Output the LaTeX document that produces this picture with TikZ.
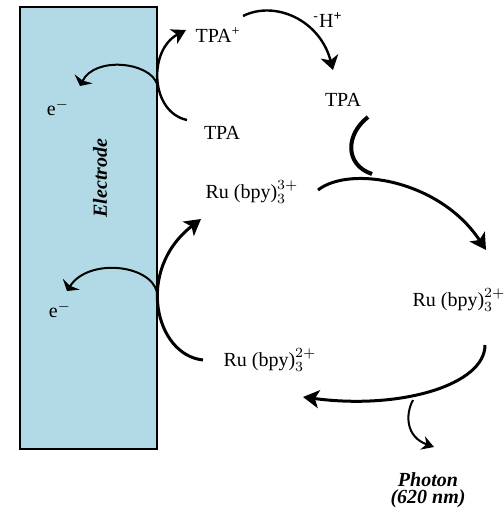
\documentclass[tikz,border=0pt]{standalone}
\usepackage{fontspec}
\setmainfont{Liberation Serif}
\usetikzlibrary{arrows.meta}
\definecolor{electrodeblue}{RGB}{178,218,230}
\begin{document}
\begin{tikzpicture}[x=0.5pt,y=-0.5pt,line width=1.5pt,
	lbl/.style={font=\fontsize{10}{11}\selectfont,inner sep=0pt},
	bigarr/.style={-{Stealth[length=8pt,width=9pt,inset=2pt]}},
	smallarr/.style={line width=1pt,-{Stealth[length=4pt,width=10pt,inset=1pt]}}]
	\useasboundingbox (0,0) rectangle (504,515);
	\draw[fill=electrodeblue,line width=0.8pt] (20,7) rectangle (157,449);
	\node[lbl,rotate=90,font=\fontsize{10}{11}\selectfont\bfseries\itshape] (electrode) at (100,178) {Electrode};
	% species
	\node[lbl] (tpaplus) at (218,35) {TPA\textsuperscript{+}};
	\node[lbl] (hplus) at (328,20) {\textsuperscript{-}H\textsuperscript{\textbf{+}}};
	\node[lbl] (tpa1) at (222,133) {TPA};
	\node[lbl] (tpa2) at (343,100) {TPA};
	\node[lbl] (ru3) at (252,192) {Ru (bpy)$_3^{3+}$};
	\node[lbl] (ru2ex) at (459,300) {Ru (bpy)$_3^{2\mathbf{+}}$};
	\node[lbl] (ru2) at (270,360) {Ru (bpy)$_3^{2\mathbf{+}}$};
	\node[lbl] (e1) at (58,108) {e$^-$};
	\node[lbl] (e2) at (60,310) {e$^-$};
	\node[lbl,font=\fontsize{10}{11}\selectfont\bfseries\itshape] (photon) at (428,480) {Photon};
	\node[lbl,font=\fontsize{10}{11}\selectfont\bfseries\itshape] (wavelen) at (428,499) {(620 nm)};
	% free ends
	\coordinate (edge1) at (157,84);
	\coordinate (edge2) at (157,292);
	\coordinate (tip1) at (80,86);
	\coordinate (tip2) at (67,291);
	\coordinate (tpain) at (187,120);
	\coordinate (tpaout) at (186,30);
	\coordinate (hstart) at (243,16);
	\coordinate (hend) at (333,70);
	\coordinate (tpatop) at (368,117);
	\coordinate (tpabot) at (372,174);
	\coordinate (ru3out) at (318,190);
	\coordinate (ru2in) at (486,250);
	\coordinate (ru2out) at (485,345);
	\coordinate (ru2back) at (303,397);
	\coordinate (branch) at (413,400);
	\coordinate (photontip) at (434,447);
	\coordinate (ru2start) at (203,360);
	\coordinate (ru3in) at (201,219);
	% electrons into the electrode
	\draw[smallarr] (edge1) .. controls (150,62) and (95,56) .. (tip1);
	\draw[smallarr] (edge2) .. controls (150,264) and (88,258) .. (tip2);
	% TPA oxidation
	\draw[line width=1.2pt,-{Stealth[length=7pt,width=8pt,inset=2pt]}] (tpain) .. controls (150,112) and (148,50) .. (tpaout);
	\draw[line width=1.2pt,-{Stealth[length=7pt,width=9pt,inset=2pt]}] (hstart) .. controls (275,0) and (320,20) .. (hend);
	% Ru cycle
	\draw[line width=2pt] (tpatop) .. controls (345,135) and (345,165) .. (tpabot);
	\draw[bigarr] (ru3out) .. controls (350,165) and (440,180) .. (ru2in);
	\draw[bigarr] (ru2out) .. controls (485,385) and (400,410) .. (ru2back);
	\draw[line width=1pt,-{Stealth[length=6pt,width=7pt,inset=2pt]}] (branch) .. controls (405,415) and (406,437) .. (photontip);
	\draw[bigarr] (ru2start) .. controls (155,355) and (135,270) .. (ru3in);
\end{tikzpicture}
\end{document}
